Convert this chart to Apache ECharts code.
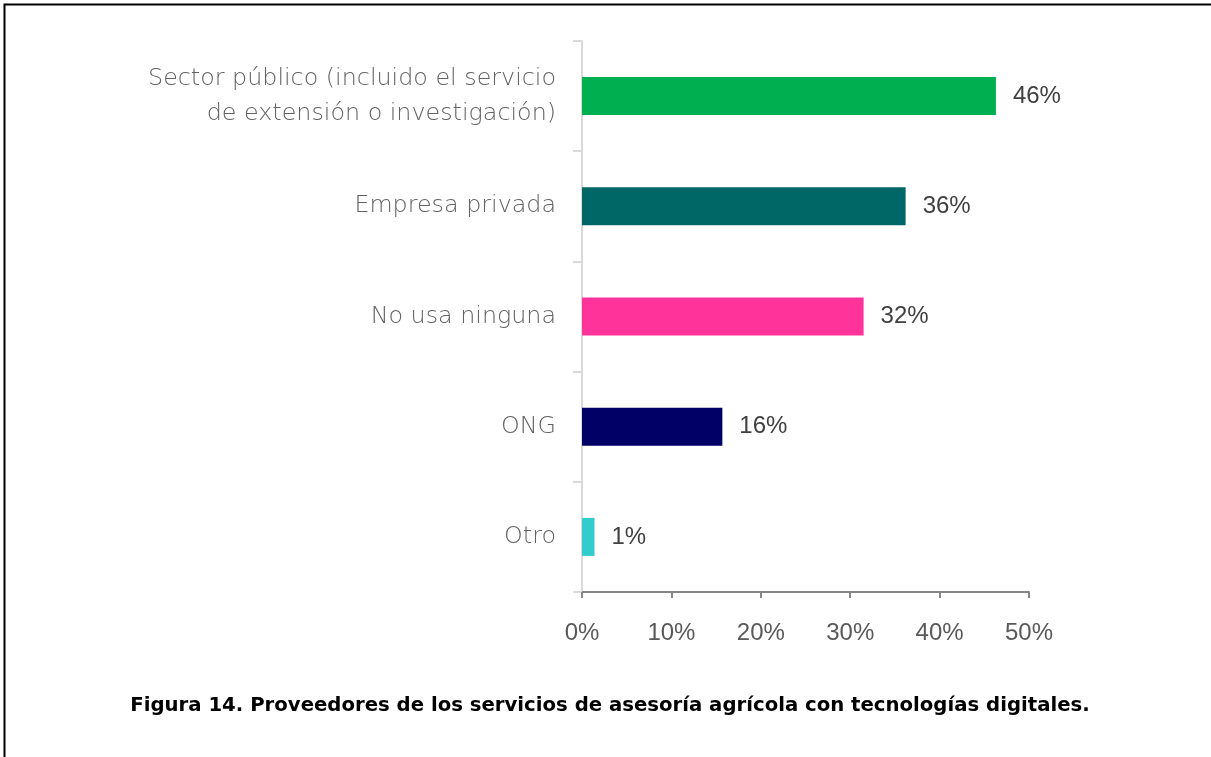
<!DOCTYPE html>
<html>
<head>
<meta charset="utf-8">
<script src="https://cdn.jsdelivr.net/npm/echarts@6/dist/echarts.min.js"></script>
<style>
  html, body { margin: 0; padding: 0; background: #fff; }
  #chart { width: 1211px; height: 757px; }
</style>
</head>
<body>
<div id="chart"></div>
<script>
// Providers of digital agricultural advisory services (share of respondents)
const categories = [
  'Sector público (incluido el servicio\nde extensión o investigación)',
  'Empresa privada',
  'No usa ninguna',
  'ONG',
  'Otro'
];
const values = [46.3, 36.2, 31.5, 15.7, 1.4];
const barColors = ['#00B050', '#006666', '#FF3399', '#000066', '#33CCCC'];
const xTickValues = [0, 10, 20, 30, 40, 50];
const caption = 'Figura 14. Proveedores de los servicios de asesoría agrícola con tecnologías digitales.';

const chart = echarts.init(document.getElementById('chart'));

chart.setOption({
  animation: false,
  backgroundColor: '#ffffff',
  grid: { left: 582, right: 182, top: 41, bottom: 165, containLabel: false },
  xAxis: {
    type: 'value',
    min: xTickValues[0],
    max: xTickValues[xTickValues.length - 1],
    interval: 10,
    axisLine: { show: true, lineStyle: { color: '#868686', width: 2 } },
    axisTick: { show: true, length: 6, lineStyle: { color: '#868686', width: 2 } },
    splitLine: { show: false },
    axisLabel: {
      margin: 29,
      color: '#595959',
      fontFamily: 'Liberation Sans',
      fontSize: 24,
      formatter: v => v + '%'
    }
  },
  yAxis: {
    type: 'category',
    inverse: true,
    data: categories,
    axisLine: { show: true, lineStyle: { color: '#d9d9d9', width: 2 } },
    axisTick: { show: true, length: 9, lineStyle: { color: '#d9d9d9', width: 2 } },
    axisLabel: {
      margin: 26,
      color: '#626262',
      fontFamily: 'DejaVu Sans',
      fontWeight: 200,
      fontSize: 23.8,
      lineHeight: 35,
      align: 'right'
    }
  },
  series: [{
    type: 'bar',
    barWidth: 38,
    data: values.map((v, i) => ({ value: v, itemStyle: { color: barColors[i] } })),
    label: {
      show: true,
      position: 'right',
      distance: 17,
      color: '#404040',
      fontFamily: 'Liberation Sans',
      fontSize: 24,
      formatter: p => Math.round(p.value) + '%'
    }
  }],
  graphic: [
    {
      type: 'polyline',
      shape: { points: [[4.5, 757], [4.5, 4.5], [1211, 4.5]] },
      style: { stroke: '#000000', lineWidth: 2, fill: null }
    },
    {
      type: 'text',
      x: 610,
      y: 706,
      style: {
        text: caption,
        fill: '#000000',
        font: 'bold 19.7px "DejaVu Sans"',
        textAlign: 'center',
        textVerticalAlign: 'middle'
      }
    }
  ]
});
</script>
</body>
</html>
